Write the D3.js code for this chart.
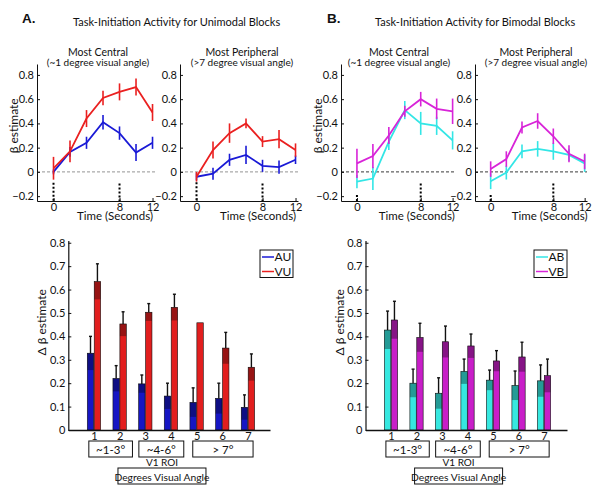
<!DOCTYPE html>
<html><head><meta charset="utf-8">
<script src="https://cdn.jsdelivr.net/npm/d3@7"></script>
<style>body{margin:0;background:#fff} text{font-family:Lato,'Open Sans',sans-serif;fill:#111}</style>
</head><body>
<svg id="c" width="600" height="497"></svg>
<script>
// ---- Time-course data (seconds) ----
const timePoints = [0, 2, 4, 6, 8, 10, 12];
const timeTicks = [0, 8, 12];
const betaTicks = [-0.2, 0, 0.2, 0.4, 0.6, 0.8];

const centralAU    = [0, 0.165, 0.24, 0.41, 0.32, 0.16, 0.24];
const centralAUerr = [0.02, 0.04, 0.05, 0.06, 0.055, 0.07, 0.05];
const centralVU    = [0.03, 0.17, 0.44, 0.61, 0.66, 0.70, 0.49];
const centralVUerr = [0.094, 0.09, 0.07, 0.06, 0.07, 0.07, 0.07];
const periphAU     = [-0.04, -0.015, 0.10, 0.14, 0.05, 0.04, 0.10];
const periphAUerr  = [0.03, 0.05, 0.05, 0.075, 0.05, 0.055, 0.035];
const periphVU     = [-0.04, 0.18, 0.32, 0.40, 0.25, 0.27, 0.18];
const periphVUerr  = [0.04, 0.07, 0.08, 0.04, 0.045, 0.075, 0.055];

const centralAB    = [-0.08, -0.055, 0.25, 0.51, 0.40, 0.38, 0.26];
const centralABerr = [0.055, 0.095, 0.07, 0.075, 0.095, 0.075, 0.075];
const centralVB    = [0.07, 0.13, 0.30, 0.50, 0.60, 0.52, 0.50];
const centralVBerr = [0.12, 0.10, 0.07, 0.045, 0.06, 0.085, 0.105];
const periphAB     = [-0.077, -0.006, 0.17, 0.19, 0.17, 0.14, 0.07];
const periphABerr  = [0.065, 0.057, 0.057, 0.064, 0.07, 0.05, 0.07];
const periphVB     = [0.023, 0.106, 0.366, 0.42, 0.294, 0.149, 0.086];
const periphVBerr  = [0.064, 0.064, 0.05, 0.064, 0.064, 0.07, 0.064];

// ---- ROI bar data ----
const roiCats = [1, 2, 3, 4, 5, 6, 7];
const deltaTicks = [0, 0.1, 0.2, 0.3, 0.4, 0.5, 0.6, 0.7, 0.8];
const barAU    = [0.328, 0.22, 0.197, 0.145, 0.118, 0.135, 0.097];
const barAUerr = [0.072, 0.055, 0.038, 0.055, 0.062, 0.065, 0.053];
const barVU    = [0.634, 0.453, 0.503, 0.524, 0.458, 0.35, 0.268];
const barVUerr = [0.076, 0.052, 0.037, 0.056, 0.0, 0.067, 0.057];
const barAB    = [0.427, 0.2, 0.157, 0.25, 0.213, 0.19, 0.21];
const barABerr = [0.081, 0.06, 0.066, 0.053, 0.043, 0.062, 0.068];
const barVB    = [0.47, 0.395, 0.377, 0.359, 0.295, 0.312, 0.232];
const barVBerr = [0.08, 0.061, 0.067, 0.051, 0.044, 0.063, 0.071];

const groupLabels = ['~1-3°', '~4-6°', '> 7°'];
const groupSpans = [[0.8, 2.5], [2.75, 4.5], [4.85, 7.2]];

const C = {blue:'#1a1ad6', red:'#ea2020', cyan:'#33e6e6', mag:'#d824d8',
           blueBar:'#1616c4', redBar:'#e21e1e', cyanBar:'#36e8e0', magBar:'#c81ec8'};

const svg = d3.select('#c');
const fmt = d => d === 0 ? '0' : (d < 0 ? '\u2212' + Math.abs(d).toFixed(1) : d.toFixed(1));

function styleAxis(g, size) {
  g.attr('font-family', null).attr('font-size', null);
  g.selectAll('text').style('font-size', size + 'px').attr('fill', '#111');
  g.selectAll('path,line').attr('stroke', '#111');
}

// ---- Headings ----
svg.append('text').attr('x', 22).attr('y', 23).text('A.')
  .style('font-family', 'Liberation Sans, Arial, sans-serif').style('font-weight', 'bold').style('font-size', '13.5px');
svg.append('text').attr('x', 73).attr('y', 26).text('Task-Initiation Activity for Unimodal Blocks').style('font-size', '11px');
svg.append('text').attr('x', 327).attr('y', 23).text('B.')
  .style('font-family', 'Liberation Sans, Arial, sans-serif').style('font-weight', 'bold').style('font-size', '13.5px');
svg.append('text').attr('x', 375).attr('y', 26).text('Task-Initiation Activity for Bimodal Blocks').style('font-size', '11px');

// ---- Time-course panels ----
const panels = [
  {x0:37, x1:155, cx:98, t1:'Most Central', t2:'(~1 degree visual angle)', ylab:true, zc:'#888', d0:-0.09,
   series:[{v:centralAU, e:centralAUerr, c:C.blue}, {v:centralVU, e:centralVUerr, c:C.red}]},
  {x0:180, x1:298, cx:242, t1:'Most Peripheral', t2:'(>7 degree visual angle)', ylab:false, zc:'#888', d0:-0.085,
   series:[{v:periphAU, e:periphAUerr, c:C.blue}, {v:periphVU, e:periphVUerr, c:C.red}]},
  {x0:341, x1:455, cx:399, t1:'Most Central', t2:'(~1 degree visual angle)', ylab:true, zc:'#222', d0:-0.19,
   series:[{v:centralAB, e:centralABerr, c:C.cyan}, {v:centralVB, e:centralVBerr, c:C.mag}]},
  {x0:475, x1:587, cx:536, t1:'Most Peripheral', t2:'(>7 degree visual angle)', ylab:false, zc:'#222', d0:-0.19,
   series:[{v:periphAB, e:periphABerr, c:C.cyan}, {v:periphVB, e:periphVBerr, c:C.mag}]}
];

panels.forEach(p => {
  const x = d3.scaleLinear().domain([-2, 12.3]).range([p.x0, p.x1]);
  const y = d3.scaleLinear().domain([-0.24, 0.89]).range([201, 64]);
  const g = svg.append('g');
  g.append('text').attr('x', p.cx).attr('y', 56).attr('text-anchor', 'middle').text(p.t1).style('font-size', '10.5px');
  g.append('text').attr('x', p.cx).attr('y', 65.5).attr('text-anchor', 'middle').text(p.t2).style('font-size', '10px');

  // zero line
  g.append('line').attr('x1', x(-2)).attr('x2', x(12.3)).attr('y1', y(0)).attr('y2', y(0))
    .attr('stroke', p.zc).attr('stroke-width', 0.9).attr('stroke-dasharray', '3,2');
  // stimulus markers
  [[0, p.d0], [8, -0.095]].forEach(([t, top]) => {
    g.append('line').attr('x1', x(t)).attr('x2', x(t)).attr('y1', y(top)).attr('y2', y(-0.24))
      .attr('stroke', '#000').attr('stroke-width', 2).attr('stroke-dasharray', '2,2');
  });

  const ax = g.append('g').attr('transform', `translate(${p.x0},0)`)
    .call(d3.axisLeft(y).tickValues(betaTicks).tickFormat(fmt).tickSizeInner(-3).tickSizeOuter(0).tickPadding(3));
  styleAxis(ax, 11);
  const bx = g.append('g').attr('transform', `translate(0,${y(-0.24)})`)
    .call(d3.axisBottom(x).tickValues(timeTicks).tickSizeInner(-3).tickSizeOuter(0).tickPadding(2));
  styleAxis(bx, 11);
  g.append('text').attr('x', (x(0) + x(12)) / 2 + 12).attr('y', 220).attr('text-anchor', 'middle')
    .text('Time (Seconds)').style('font-size', '11.5px');
  if (p.ylab) {
    g.append('text').attr('transform', `translate(${p.x0 - 19},${y(0.38)}) rotate(-90)`).attr('text-anchor', 'middle')
      .text('β estimate').style('font-size', '12px');
  }

  const line = d3.line().x((d, i) => x(timePoints[i])).y(d => y(d));
  p.series.forEach(s => {
    g.append('path').datum(s.v).attr('d', line).attr('fill', 'none').attr('stroke', s.c).attr('stroke-width', 1.8);
    g.selectAll(null).data(s.v).enter().append('line')
      .attr('x1', (d, i) => x(timePoints[i])).attr('x2', (d, i) => x(timePoints[i]))
      .attr('y1', (d, i) => y(d - s.e[i])).attr('y2', (d, i) => y(d + s.e[i]))
      .attr('stroke', s.c).attr('stroke-width', 1.6);
  });
});

// ---- Bar panels ----
const barPanels = [
  {x0:68.3, x1:270, dmax:7.86, names:['AU', 'VU'], lx:260,
   series:[{v:barAU, e:barAUerr, c:C.blueBar, lc:C.blue}, {v:barVU, e:barVUerr, c:C.redBar, lc:C.red}]},
  {x0:365.5, x1:567, dmax:7.9, names:['AB', 'VB'], lx:534,
   series:[{v:barAB, e:barABerr, c:C.cyanBar, lc:C.cyan}, {v:barVB, e:barVBerr, c:C.magBar, lc:C.mag}]}
];

barPanels.forEach(p => {
  const x = d3.scaleLinear().domain([0, p.dmax]).range([p.x0, p.x1]);
  const y = d3.scaleLinear().domain([0, 0.81]).range([430, 240.4]);
  const g = svg.append('g');
  const bw = x(0.25) - x(0);
  const off = [-0.135, 0.135];

  p.series.forEach((s, k) => {
    roiCats.forEach((cat, i) => {
      const cx = x(cat + off[k]);
      const v = s.v[i], e = s.e[i];
      g.append('rect').attr('x', cx - bw / 2).attr('width', bw).attr('y', y(v)).attr('height', y(0) - y(v))
        .attr('fill', s.c).attr('stroke', '#111').attr('stroke-width', 0.6);
      if (e > 0) {
        g.append('rect').attr('x', cx - bw / 2).attr('width', bw).attr('y', y(v)).attr('height', y(v - e) - y(v))
          .attr('fill', '#000').attr('fill-opacity', 0.33);
        g.append('line').attr('x1', cx).attr('x2', cx).attr('y1', y(v)).attr('y2', y(v + e))
          .attr('stroke', '#111').attr('stroke-width', 1.4);
        g.append('line').attr('x1', cx - 1.5).attr('x2', cx + 1.5).attr('y1', y(v + e)).attr('y2', y(v + e))
          .attr('stroke', '#111').attr('stroke-width', 1.4);
      }
    });
  });

  const ax = g.append('g').attr('transform', `translate(${p.x0},0)`)
    .call(d3.axisLeft(y).tickValues(deltaTicks).tickFormat(fmt).tickSizeInner(-3).tickSizeOuter(0).tickPadding(3));
  styleAxis(ax, 11);
  ax.select('.domain').attr('stroke-width', 1.2);
  const bx = g.append('g').attr('transform', `translate(0,${y(0)})`)
    .call(d3.axisBottom(x).tickValues(roiCats).tickFormat(d3.format('d')).tickSizeInner(0).tickSizeOuter(0).tickPadding(2));
  styleAxis(bx, 11);
  bx.select('.domain').attr('stroke-width', 1.4);

  g.append('text').attr('transform', `translate(${p.x0 - 22},${y(0.46)}) rotate(-90)`).attr('text-anchor', 'middle')
    .text('Δ β estimate').style('font-size', '12px');

  // group boxes
  groupSpans.forEach((sp, i) => {
    g.append('rect').attr('x', x(sp[0])).attr('y', 441).attr('width', x(sp[1]) - x(sp[0])).attr('height', 16)
      .attr('fill', '#fff').attr('stroke', '#111').attr('stroke-width', 1);
    g.append('text').attr('x', (x(sp[0]) + x(sp[1])) / 2).attr('y', 453.5).attr('text-anchor', 'middle')
      .text(groupLabels[i]).style('font-size', '11.5px');
  });
  const mid = x(3.65);
  g.append('text').attr('x', mid).attr('y', 466).attr('text-anchor', 'middle').text('V1 ROI').style('font-size', '10px');
  g.append('rect').attr('x', mid - 44).attr('y', 468).attr('width', 88).attr('height', 16)
    .attr('fill', '#fff').attr('stroke', '#111').attr('stroke-width', 1);
  g.append('text').attr('x', mid).attr('y', 480.5).attr('text-anchor', 'middle').text('Degrees Visual Angle').style('font-size', '10.3px');

  // legend
  const lg = g.append('g').attr('transform', `translate(${p.lx},250)`);
  lg.append('rect').attr('width', 33).attr('height', 27.5).attr('fill', '#fff').attr('stroke', '#111').attr('stroke-width', 1);
  p.series.forEach((s, k) => {
    const yy = 7 + k * 14.5;
    lg.append('line').attr('x1', 2).attr('x2', 14).attr('y1', yy).attr('y2', yy).attr('stroke', s.lc).attr('stroke-width', 1.5);
    lg.append('text').attr('x', 14.5).attr('y', yy + 4.2).text(p.names[k]).style('font-size', '12px');
  });
});
</script>
</body></html>
